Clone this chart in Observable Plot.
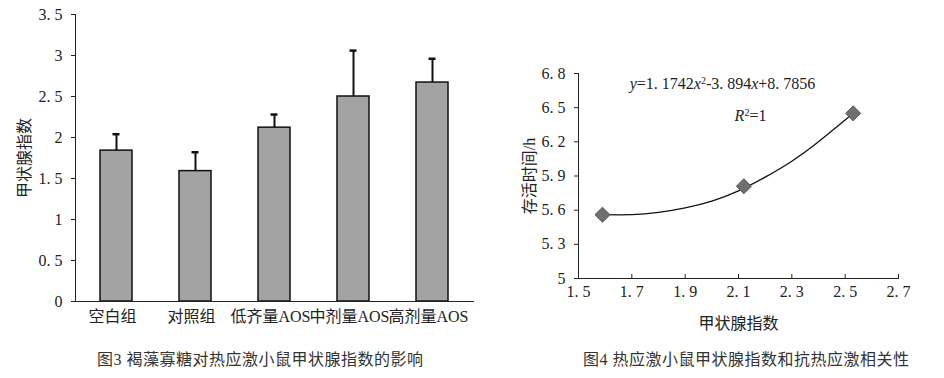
<!DOCTYPE html>
<html><head><meta charset="utf-8">
<script src="https://cdn.jsdelivr.net/npm/d3@7"></script>
<script src="https://cdn.jsdelivr.net/npm/@observablehq/plot@0.6"></script>
<style>
body{margin:0;background:#fff;}
#wrap{position:relative;width:944px;height:378px;overflow:hidden;font-family:"Liberation Serif","Noto Sans CJK SC",serif;color:#222;}
#c1{position:absolute;left:0;top:0}
#c2{position:absolute;left:500px;top:0}
.cap{position:absolute;top:350px;font-size:16px;line-height:20px;white-space:nowrap;font-family:"Liberation Serif","Noto Sans CJK SC",serif;color:#333;}
</style></head>
<body><div id="wrap"><div id="c1"></div><div id="c2"></div>
<div class="cap" id="cap1" style="left:97px;letter-spacing:0.5px">图3 褐藻寡糖对热应激小鼠甲状腺指数的影响</div>
<div class="cap" id="cap2" style="left:583px;letter-spacing:0.5px">图4 热应激小鼠甲状腺指数和抗热应激相关性</div></div>
<script>
// Figure 3 data
const groups = ["空白组", "对照组", "低齐量AOS", "中剂量AOS", "高剂量AOS"];
const means = [1.84, 1.59, 2.12, 2.50, 2.67];
const upper = [2.04, 1.82, 2.28, 3.06, 2.96];
const yTicks1 = [0, 0.5, 1, 1.5, 2, 2.5, 3, 3.5];

// Figure 4 data
const pointX = [1.59, 2.12, 2.53];
const pointY = [5.56, 5.81, 6.45];
const curveX = [1.59, 1.7, 1.8, 1.9, 2.0, 2.1, 2.2, 2.3, 2.4, 2.53];
const curveY = [5.56, 5.56, 5.58, 5.62, 5.68, 5.77, 5.89, 6.03, 6.20, 6.45];
const xTicks2 = [1.5, 1.7, 1.9, 2.1, 2.3, 2.5, 2.7];
const yTicks2 = [5, 5.3, 5.6, 5.9, 6.2, 6.5, 6.8];
const equation = "y=1. 1742x2-3. 894x+8. 7856";
const rsq = "R2=1";

const fmt = d => String(d).replace(".", ". ");
const font = '"Liberation Serif","Noto Sans CJK SC",serif';

const bars = groups.map((g, i) => ({g, m: means[i], u: upper[i]}));

const p1 = Plot.plot({
  width: 500, height: 340,
  marginLeft: 75, marginRight: 27, marginTop: 14, marginBottom: 39,
  style: {fontFamily: font, fontSize: "16px", color: "#222", background: "white", overflow: "visible"},
  x: {domain: groups, paddingInner: 0.6, paddingOuter: 0.3, label: null},
  y: {domain: [0, 3.5], label: null},
  marks: [
    Plot.barY(bars, {x: "g", y: "m", fill: "#a3a3a3", stroke: "#111", strokeWidth: 1.5}),
    Plot.ruleX(bars, {x: "g", y1: "m", y2: "u", stroke: "#111", strokeWidth: 2}),
    Plot.tickY(bars, {x: "g", y: "u", stroke: "#111", strokeWidth: 2.5, insetLeft: 12.5, insetRight: 12.5}),
    Plot.axisY(yTicks1, {tickFormat: fmt, tickSize: 4, tickPadding: 9, label: "甲状腺指数", labelArrow: "none", labelAnchor: "center", labelOffset: 57, fontSize: 16}),
    Plot.axisX({tickSize: 0, tickPadding: 9, dx: -4, label: null, fontSize: 16}),
    Plot.frame({anchor: "left", stroke: "#222"}),
    Plot.frame({anchor: "bottom", stroke: "#222"})
  ]
});
document.getElementById("c1").appendChild(p1);

const pts = pointX.map((x, i) => ({x, y: pointY[i]}));
const crv = curveX.map((x, i) => ({x, y: curveY[i]}));

const p2 = Plot.plot({
  width: 444, height: 340,
  marginLeft: 78, marginRight: 46, marginTop: 73, marginBottom: 62,
  style: {fontFamily: font, fontSize: "16px", color: "#222", background: "white", overflow: "visible"},
  x: {domain: [1.5, 2.7], label: null},
  y: {domain: [5, 6.8], label: null},
  marks: [
    Plot.line(crv, {x: "x", y: "y", curve: "natural", stroke: "#111", strokeWidth: 1.3}),
    Plot.dot(pts, {x: "x", y: "y", symbol: "diamond2", r: 6.8, fill: "#6f6f6f", stroke: "#5a5a5a", strokeWidth: 1}),
    Plot.text([equation], {x: 2.04, y: 6.71, text: d => d, fontSize: 16, className: "eq"}),
    Plot.text([rsq], {x: 2.145, y: 6.43, text: d => d, fontSize: 16, className: "rsq"}),
    Plot.axisY(yTicks2, {tickFormat: fmt, tickSize: 4, tickPadding: 9, label: "存活时间/h", labelArrow: "none", labelAnchor: "center", labelOffset: 55, fontSize: 16}),
    Plot.axisX(xTicks2, {tickFormat: fmt, tickSize: -4, tickPadding: 11, label: "甲状腺指数", labelArrow: "none", labelAnchor: "center", labelOffset: 50, fontSize: 16}),
    Plot.frame({anchor: "left", stroke: "#222"}),
    Plot.frame({anchor: "bottom", stroke: "#222"})
  ]
});
document.getElementById("c2").appendChild(p2);

// strip any direction arrows from axis labels
for (const svg of [p1, p2]) {
  d3.select(svg).selectAll("text").each(function() {
    const s = this.textContent;
    if (/[↑↓←→]/.test(s) && this.children.length === 0) this.textContent = s.replace(/\s*[↑↓←→]\s*/g, "");
  });
}

// style the equation text: italic variables, superscript 2
function richText(sel, parts) {
  const t = d3.select(p2).select(sel).select("text");
  if (t.empty()) return;
  t.text(null);
  for (const [s, opt] of parts) {
    const ts = t.append("tspan").text(s);
    if (opt === "i") ts.attr("font-style", "italic");
    if (opt === "sup") ts.attr("font-size", 10).attr("baseline-shift", "super");
  }
}
richText("g.eq", [["y","i"],["=1. 1742",""],["x","i"],["2","sup"],["-3. 894",""],["x","i"],["+8. 7856",""]]);
richText("g.rsq", [["R","i"],["2","sup"],["=1",""]]);
</script>
</body></html>
